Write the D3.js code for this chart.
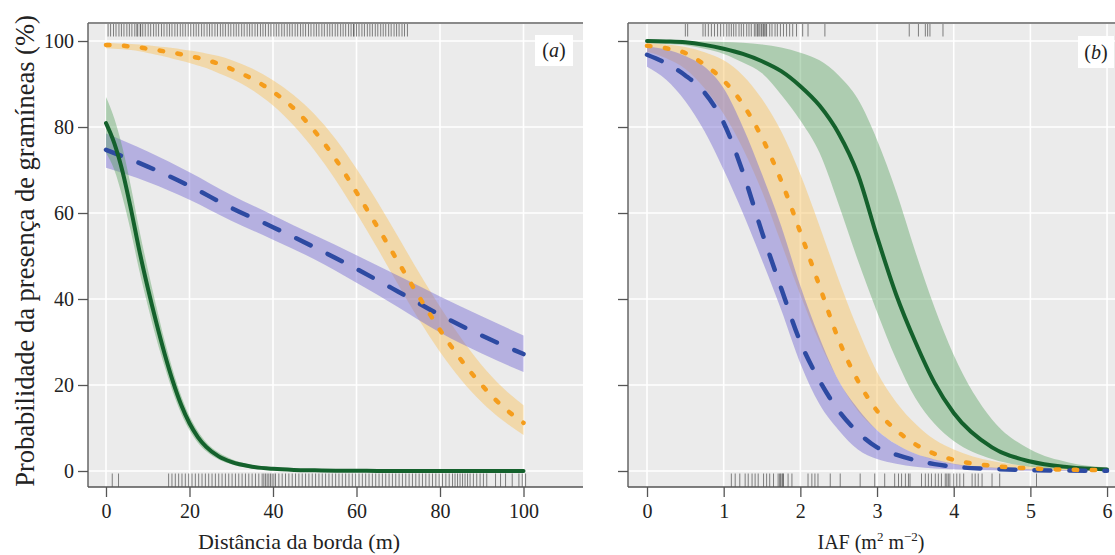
<!DOCTYPE html>
<html>
<head>
<meta charset="utf-8">
<script src="https://cdn.jsdelivr.net/npm/d3@7"></script>
<style>
  html, body { margin: 0; padding: 0; background: #ffffff; }
  svg { display: block; }
  text { font-family: "Liberation Serif", "Times New Roman", serif; fill: #222; }
</style>
</head>
<body>
<svg id="chart" width="1115" height="555"></svg>
<script>
// ---------------- DATA ----------------
// Panel (a): distance from edge (m)
const distX = [0,2,4,6,8,10,12,14,16,18,20,22,24,27,30,35,40,45,50,55,60,65,70,75,80,85,90,95,100];
const greenA      = [80.9,76.2,69.5,60.8,51.2,42.6,34.7,27.4,20.9,15.4,11.1,7.9,5.6,3.4,2.1,1.0,0.5,0.25,0.15,0.08,0.05,0.03,0.02,0.01,0.01,0,0,0,0];
const greenAUpper = [87,82,75,66,56,47,38.5,30.5,23.5,17.5,12.8,9.3,6.7,4.3,2.8,1.4,0.8,0.5,0.3,0.2,0.1,0.07,0.05,0.03,0.02,0.01,0,0,0];
const greenALower = [74,70,63.5,55.5,46.5,38.5,31,24.4,18.4,13.4,9.5,6.6,4.6,2.7,1.6,0.6,0.25,0.1,0.05,0.02,0,0,0,0,0,0,0,0,0];
const orangeA      = [99.1,99,98.9,98.7,98.5,98.2,97.9,97.6,97.3,96.9,96.5,96.1,95.6,94.7,93.5,91.2,88.2,84.3,79,72.5,64.8,56.8,48.6,40.5,32.8,25.9,20,15,11.2];
const orangeAUpper = [99.6,99.5,99.4,99.3,99.2,99.0,98.8,98.6,98.4,98.1,97.8,97.5,97.1,96.5,95.6,93.6,90.9,87.4,82.9,77.2,70.3,62.6,54.4,46.1,38.2,31,24.6,19.4,15.3];
const orangeALower = [98.3,98.2,98.1,97.9,97.6,97.2,96.8,96.4,95.9,95.4,94.9,94.3,93.7,92.5,91.3,88.6,85,80.3,74.5,67.7,60,51.8,43.3,35.1,27.7,21.3,16,11.8,8.4];
const blueDistX = [0,10,20,30,40,50,60,70,80,90,100];
const blueA      = [74.7,70.8,66.3,61.2,56.7,52,47,41.7,36.3,31.5,27.2];
const blueAUpper = [78.5,74.3,69.5,64.2,59.5,54.8,50.2,45.4,40.6,36,31.5];
const blueALower = [70.5,67.2,63.1,58.2,53.8,49.2,43.8,38.1,32.2,27.3,23];

// Panel (b): IAF (m2 m-2)
const iafX = [0,0.25,0.5,0.75,1,1.25,1.5,1.75,2,2.25,2.5,2.75,3,3.25,3.5,3.75,4,4.5,5,5.5,6];
const greenB      = [100,99.9,99.7,99.1,98.2,97,95.3,93,89.5,85,78.5,69,54.5,41,30,20.5,13.5,5.5,2.2,0.9,0.35];
const greenBUpper = [100,100,99.95,99.9,99.8,99.6,99.2,98.5,97.3,95.5,92,86.5,77,65,51,38,27,12,5,2,0.8];
const greenBLower = [99.6,99.3,99,98.2,97,95,92.5,87.5,81.5,74,62,49,37,26,17,11,7,2.8,1,0.4,0.15];
const orangeB      = [98.9,98.3,97.2,94.5,90.8,85.3,77.5,67.5,55.5,43,30.5,21,14,9.5,6.2,4,2.6,1.2,0.6,0.3,0.2];
const orangeBUpper = [99.6,99.2,98.6,97.4,95.5,92,86.5,79,69,57,44.5,33,23,16,11,7.3,5,2.3,1.1,0.5,0.3];
const orangeBLower = [97.5,96,93.5,89,83,75,65,53,41,30,21,14,9.5,6.2,4,2.6,1.6,0.7,0.3,0.12,0.05];
const blueB      = [96.8,94.8,92,88,81,69.5,55.5,42.5,30,21,14,9,5.5,3.8,2.5,1.6,1,0.5,0.2,0.1,0.05];
const blueBUpper = [98.8,98,96.5,94,89,80,69,57,43,31,21,14.5,9.5,6.2,4,2.7,1.7,0.8,0.4,0.2,0.1];
const blueBLower = [94,91,86,79,70,60,49,37.5,25,15.5,9.5,5,2.8,1.7,1,0.6,0.4,0.15,0.05,0.02,0.01];

// Rug positions
const rugTopA = [0.5,1.1,1.8,2.4,3.1,3.7,4.3,5.0,5.6,6.2,6.9,7.4,7.6,8.2,8.3,8.8,9.4,10.1,10.7,11.4,12.0,12.6,13.3,13.9,14.6,15.2,15.8,16.5,17.1,17.8,18.4,19.0,19.7,20.3,21.0,21.6,22.2,22.9,23.5,24.2,24.8,25.4,26.1,26.7,27.4,28.0,28.6,29.3,29.9,30.6,31.2,31.8,32.5,33.1,33.8,34.4,35.0,35.7,36.3,37.0,37.6,38.2,38.9,39.5,40.2,40.8,41.4,42.1,42.7,43.4,44.0,44.6,45.3,45.9,46.6,47.2,47.8,48.5,49.1,49.8,50.4,51.0,51.7,52.3,53.0,53.6,54.2,54.9,55.5,56.2,56.8,57.4,58.1,58.7,59.3,59.4,60.0,60.6,61.3,61.9,62.6,63.2,63.8,64.5,65.1,65.8,66.4,67.0,67.7,68.3,69.0,69.6,70.2,70.9,71.5,72.2];
const rugBottomA = [1.5,3.0,15.0,15.8,16.6,17.4,18.2,19.0,19.8,20.6,21.4,22.2,23.0,23.8,24.6,25.4,26.2,27.0,27.8,28.6,29.4,30.2,31.0,31.8,32.6,33.4,34.2,35.0,35.8,36.6,37.4,37.8,38.2,38.6,39.0,39.4,39.8,40.2,40.6,41.4,42.2,43.0,43.8,44.6,45.4,46.2,47.0,47.8,48.6,49.4,50.2,51.0,51.8,52.6,53.4,54.2,55.0,55.8,56.6,57.4,58.2,59.0,59.8,60.6,61.4,62.2,63.0,63.8,64.6,65.4,66.2,67.0,67.8,68.6,69.4,70.2,71.0,71.8,72.6,73.4,74.2,75.0,75.8,76.6,77.4,78.2,79.0,79.8,80.6,81.4,82.2,83.0,83.6,84.2,84.8,85.4,86.0,86.6,87.2,88.0,88.8,89.6,90.4,91.2,93.3,94.5,95.7,97.3,98.9,99.7,100.5];
const rugTopB = [0.5,0.53,0.73,0.76,0.8,0.84,0.88,0.92,0.96,1.0,1.04,1.07,1.1,1.13,1.16,1.2,1.23,1.26,1.3,1.33,1.36,1.4,1.42,1.44,1.45,1.47,1.49,1.5,1.52,1.53,1.55,1.56,1.6,1.63,1.67,1.7,1.74,1.78,1.82,1.86,1.9,1.95,2.03,2.1,2.32,3.42,3.54,3.63,3.66,3.69,3.86];
const rugBottomB = [1.10,1.15,1.21,1.28,1.32,1.37,1.41,1.45,1.52,1.56,1.60,1.65,1.71,1.73,1.74,1.76,1.77,1.78,1.84,1.89,2.10,2.15,2.19,2.23,2.39,2.52,2.78,2.97,3.10,3.23,3.28,3.32,3.37,3.41,3.43,3.58,3.63,3.67,3.71,3.76,3.80,3.84,3.89,3.91,3.93,3.95,4.00,4.04,4.08,4.13,4.24,4.28,4.32,4.37,4.50,4.60,5.08];

const yTicks = [0,20,40,60,80,100];
const xTicksA = [0,20,40,60,80,100];
const xTicksB = [0,1,2,3,4,5,6];

// ---------------- STYLE ----------------
const C = {
  green: "#14612c", greenBand: "#4f9e58",
  orange: "#f59d1c", orangeBand: "#f7c56a",
  blue: "#2d4aa2", blueBand: "#7468d2"
};

const svg = d3.select("#chart");
const plotTop = 23, plotBottom = 487;
const y = d3.scaleLinear().domain([-3.72, 104.19]).range([plotBottom, plotTop]);

function panel(opts) {
  const x = d3.scaleLinear().domain(opts.xDomain).range(opts.xRange);
  const g = svg.append("g");
  const [x0, x1] = opts.xRange;
  const clipId = "clip" + opts.id;
  svg.append("defs").append("clipPath").attr("id", clipId)
    .append("rect").attr("x", x0).attr("y", plotTop).attr("width", x1 - x0).attr("height", plotBottom - plotTop);

  g.append("rect").attr("x", x0).attr("y", plotTop).attr("width", x1 - x0).attr("height", plotBottom - plotTop)
    .attr("fill", "#ebebeb");

  // gridlines
  g.append("g").selectAll("line").data(yTicks).join("line")
    .attr("x1", x0).attr("x2", x1).attr("y1", d => y(d)).attr("y2", d => y(d))
    .attr("stroke", "#ffffff").attr("stroke-width", 1.6);
  g.append("g").selectAll("line").data(opts.xTicks).join("line")
    .attr("x1", d => x(d)).attr("x2", d => x(d)).attr("y1", plotTop).attr("y2", plotBottom)
    .attr("stroke", "#ffffff").attr("stroke-width", 1.6);

  const plot = g.append("g").attr("clip-path", `url(#${clipId})`);

  // bands
  opts.series.forEach(s => {
    const pts = s.xs.map((d, i) => ({x: d, lo: s.lo[i], hi: s.hi[i]}));
    plot.append("path").datum(pts)
      .attr("d", d3.area().x(d => x(d.x)).y0(d => y(d.lo)).y1(d => y(d.hi)).curve(d3.curveMonotoneX))
      .attr("fill", s.band).attr("fill-opacity", s.bandOpacity);
  });
  // lines
  opts.lineOrder.forEach(k => {
    const s = opts.series[k];
    const pts = s.xs.map((d, i) => ({x: d, v: s.v[i]}));
    plot.append("path").datum(pts)
      .attr("d", d3.line().x(d => x(d.x)).y(d => y(d.v)).curve(d3.curveMonotoneX))
      .attr("fill", "none").attr("stroke", s.color).attr("stroke-width", s.width)
      .attr("stroke-linecap", s.cap).attr("stroke-dasharray", s.dash);
  });

  // rugs
  const rug = plot.append("g").attr("stroke", "#333").attr("stroke-opacity", 0.6).attr("stroke-width", 1);
  rug.selectAll("line.t").data(opts.rugTop).join("line").attr("class", "t")
    .attr("x1", d => x(d)).attr("x2", d => x(d)).attr("y1", plotTop).attr("y2", plotTop + 13.5);
  rug.selectAll("line.b").data(opts.rugBottom).join("line").attr("class", "b")
    .attr("x1", d => x(d)).attr("x2", d => x(d)).attr("y1", plotBottom - 13.5).attr("y2", plotBottom);

  // frame lines (top, left, bottom)
  g.append("line").attr("x1", x0).attr("x2", x1).attr("y1", plotTop).attr("y2", plotTop)
    .attr("stroke", "#8a8a8a").attr("stroke-width", 2);
  g.append("line").attr("x1", x0).attr("x2", x0).attr("y1", plotTop).attr("y2", plotBottom)
    .attr("stroke", "#666").attr("stroke-width", 1.5);
  g.append("line").attr("x1", x0).attr("x2", x1).attr("y1", plotBottom).attr("y2", plotBottom)
    .attr("stroke", "#555").attr("stroke-width", 1.5);

  // axes
  const yAxis = d3.axisLeft(y).tickValues(yTicks).tickSize(10).tickPadding(4)
    .tickFormat(opts.yLabels ? d3.format("d") : () => "");
  const ya = g.append("g").attr("transform", `translate(${x0},0)`).call(yAxis);
  ya.select(".domain").remove();
  ya.selectAll(".tick line").attr("stroke", "#555").attr("stroke-width", 1.3);
  ya.selectAll(".tick text").style("font-family", "Liberation Serif").style("font-size", "20px").attr("fill", "#222");

  const xAxis = d3.axisBottom(x).tickValues(opts.xTicks).tickSize(10).tickPadding(7).tickFormat(d3.format("d"));
  const xa = g.append("g").attr("transform", `translate(0,${plotBottom})`).call(xAxis);
  xa.select(".domain").remove();
  xa.selectAll(".tick line").attr("stroke", "#555").attr("stroke-width", 1.3);
  xa.selectAll(".tick text").style("font-family", "Liberation Serif").style("font-size", "20px").attr("fill", "#222");

  // panel label
  const lb = opts.label;
  g.append("rect").attr("x", lb.x).attr("y", lb.y).attr("width", lb.w).attr("height", lb.h).attr("fill", "#ffffff");
  const t = g.append("text").attr("x", lb.x + lb.w / 2).attr("y", lb.y + lb.h - 9)
    .attr("text-anchor", "middle").style("font-size", "20px");
  t.append("tspan").text("(");
  t.append("tspan").style("font-style", "italic").text(lb.letter);
  t.append("tspan").text(")");
  return x;
}

panel({
  id: "a", xDomain: [-4.31, 114.25], xRange: [88, 583], xTicks: xTicksA, yLabels: true,
  series: [
    {xs: distX, v: orangeA, lo: orangeALower, hi: orangeAUpper, color: C.orange, band: C.orangeBand, bandOpacity: 0.5, width: 4.5, cap: "round", dash: "3.5,14.5"},
    {xs: blueDistX, v: blueA, lo: blueALower, hi: blueAUpper, color: C.blue, band: C.blueBand, bandOpacity: 0.45, width: 4.5, cap: "round", dash: "16,19"},
    {xs: distX, v: greenA, lo: greenALower, hi: greenAUpper, color: C.green, band: C.greenBand, bandOpacity: 0.4, width: 4, cap: "round", dash: null}
  ],
  lineOrder: [1, 2, 0],
  rugTop: rugTopA, rugBottom: rugBottomA,
  label: {x: 535, y: 35, w: 38, h: 31, letter: "a"}
});

panel({
  id: "b", xDomain: [-0.248, 6.208], xRange: [628, 1123], xTicks: xTicksB, yLabels: false,
  series: [
    {xs: iafX, v: orangeB, lo: orangeBLower, hi: orangeBUpper, color: C.orange, band: C.orangeBand, bandOpacity: 0.5, width: 4.5, cap: "round", dash: "3.5,14.5"},
    {xs: iafX, v: blueB, lo: blueBLower, hi: blueBUpper, color: C.blue, band: C.blueBand, bandOpacity: 0.45, width: 4.5, cap: "round", dash: "16,19"},
    {xs: iafX, v: greenB, lo: greenBLower, hi: greenBUpper, color: C.green, band: C.greenBand, bandOpacity: 0.4, width: 4, cap: "round", dash: null}
  ],
  lineOrder: [2, 1, 0],
  rugTop: rugTopB, rugBottom: rugBottomB,
  label: {x: 1078, y: 36, w: 36, h: 32, letter: "b"}
});

// axis titles
svg.append("text").attr("transform", "translate(34,251) rotate(-90)")
  .attr("text-anchor", "middle").style("font-size", "26.5px")
  .text("Probabilidade da presença de gramíneas (%)");
svg.append("text").attr("x", 299).attr("y", 549).attr("text-anchor", "middle").style("font-size", "22px")
  .text("Distância da borda (m)");
const iaf = svg.append("text").attr("x", 871).attr("y", 549).attr("text-anchor", "middle").style("font-size", "20px");
iaf.append("tspan").text("IAF (m");
iaf.append("tspan").attr("dy", -8).style("font-size", "13px").text("2");
iaf.append("tspan").attr("dy", 8).text(" m");
iaf.append("tspan").attr("dy", -8).style("font-size", "13px").text("−2");
iaf.append("tspan").attr("dy", 8).text(")");
</script>
</body>
</html>
